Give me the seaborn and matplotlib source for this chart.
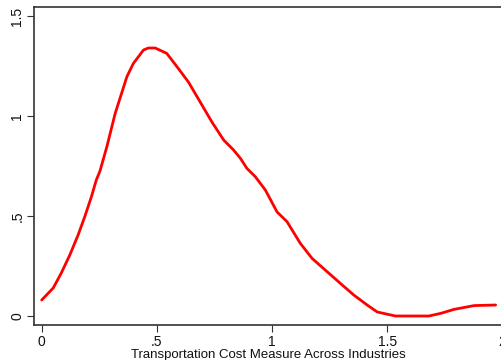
import matplotlib
matplotlib.use("Agg")
import matplotlib.pyplot as plt
import seaborn as sns
import pandas as pd

x_vals = [0.0, 0.05, 0.085, 0.122, 0.158, 0.187, 0.216, 0.237, 0.253, 0.283, 0.319,
          0.37, 0.398, 0.442, 0.463, 0.493, 0.543, 0.587, 0.637, 0.688, 0.739, 0.79,
          0.833, 0.863, 0.891, 0.927, 0.971, 1.022, 1.065, 1.123, 1.174, 1.226, 1.297,
          1.355, 1.413, 1.457, 1.536, 1.681, 1.732, 1.79, 1.877, 1.971]
density = [0.08, 0.14, 0.215, 0.305, 0.405, 0.497, 0.597, 0.68, 0.725, 0.847, 1.013,
           1.197, 1.263, 1.33, 1.34, 1.34, 1.313, 1.247, 1.17, 1.07, 0.97, 0.88,
           0.83, 0.788, 0.738, 0.697, 0.63, 0.52, 0.472, 0.363, 0.288, 0.235, 0.163,
           0.105, 0.055, 0.02, 0.0, 0.0, 0.013, 0.033, 0.052, 0.055]
x_ticks = [0, 0.5, 1, 1.5, 2]
x_tick_labels = ["0", ".5", "1", "1.5", "2"]
y_ticks = [0, 0.5, 1, 1.5]
y_tick_labels = ["0", ".5", "1", "1.5"]
x_label = "Transportation Cost Measure Across Industries"

df = pd.DataFrame({"x": x_vals, "density": density})

sns.set_theme(style="white")
plt.rcParams["font.family"] = ["Liberation Sans", "DejaVu Sans"]

fig = plt.figure(figsize=(5.02, 3.6), dpi=100)
ax = fig.add_axes([34 / 502, 1 - 325 / 360, 1 - 34 / 502 + 0.002, (325 - 7) / 360])

sns.lineplot(data=df, x="x", y="density", ax=ax, color="#ff0000", linewidth=2.0,
             solid_joinstyle="round", solid_capstyle="round")

ax.set_xlim(-0.0335, 2.003)
ax.set_ylim(-0.045, 1.545)
ax.set_xticks(x_ticks)
ax.set_xticklabels(x_tick_labels)
ax.set_yticks(y_ticks)
ax.set_yticklabels(y_tick_labels, rotation=90, va="center")
ax.set_xlabel(x_label, fontsize=9.5, labelpad=0, color="#111111")
ax.set_ylabel("")

for side in ["left", "bottom", "top"]:
    ax.spines[side].set_visible(True)
    ax.spines[side].set_color("#333333")
    ax.spines[side].set_linewidth(1.2)
ax.spines["right"].set_visible(False)

ax.tick_params(axis="both", which="major", direction="out", length=5, width=0.8,
               color="#333333", labelsize=10, labelcolor="#111111",
               bottom=True, left=True, top=False, right=False, pad=2)

fig.savefig("out.png", dpi=100, facecolor="white")
